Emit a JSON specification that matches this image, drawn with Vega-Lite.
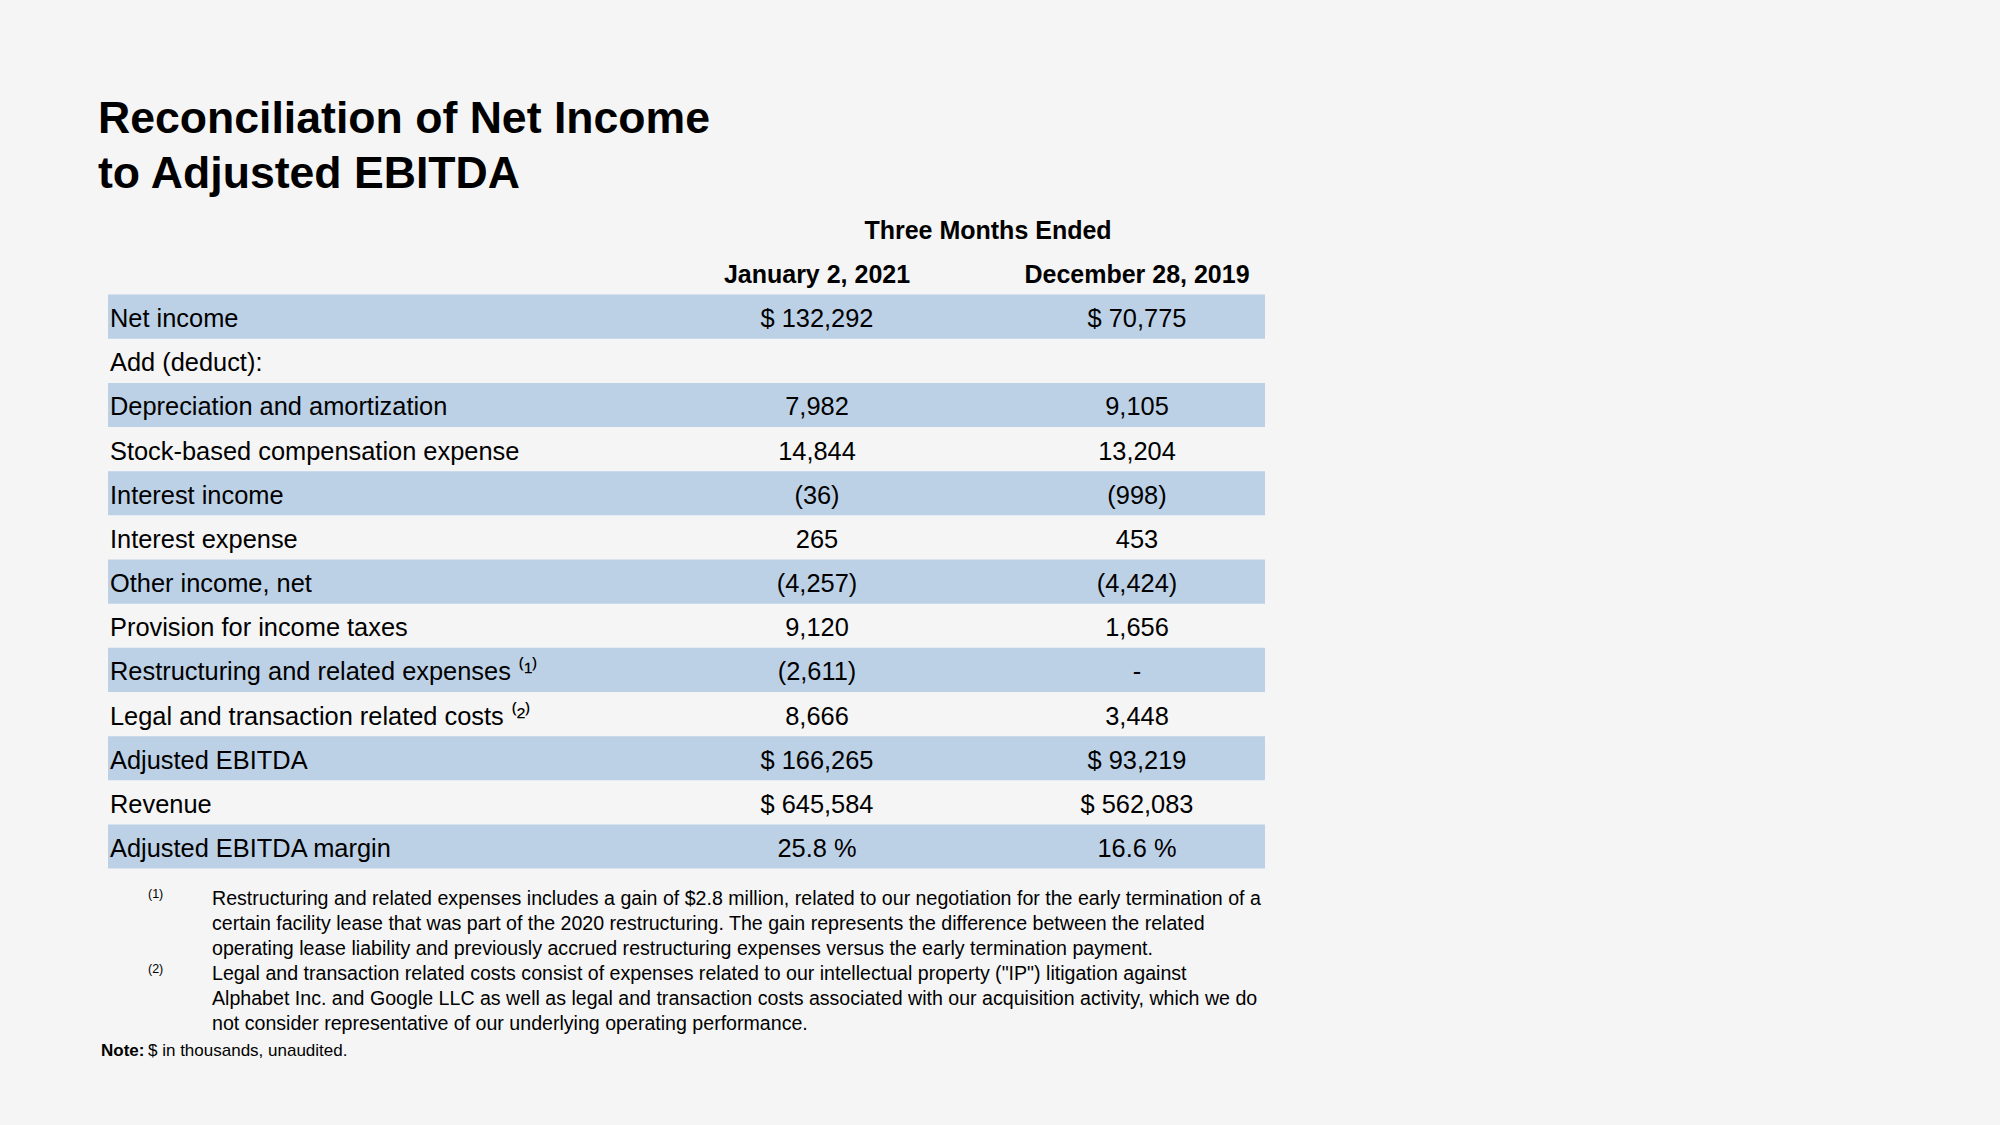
{
  "$schema": "https://vega.github.io/schema/vega-lite/v6.json",
  "width": 2000,
  "height": 1125,
  "autosize": {"type": "fit", "contains": "padding"},
  "padding": 0,
  "background": "#f5f5f5",
  "config": {"view": {"stroke": null}, "text": {"font": "Liberation Sans", "color": "#000000"}},
  "datasets": {
    "table": [
      {"r": 0, "item": "Net income", "jan": "$ 132,292", "dec": "$ 70,775", "shade": 1},
      {"r": 1, "item": "Add (deduct):", "jan": "", "dec": "", "shade": 0},
      {"r": 2, "item": "Depreciation and amortization", "jan": "7,982", "dec": "9,105", "shade": 1},
      {"r": 3, "item": "Stock-based compensation expense", "jan": "14,844", "dec": "13,204", "shade": 0},
      {"r": 4, "item": "Interest income", "jan": "(36)", "dec": "(998)", "shade": 1},
      {"r": 5, "item": "Interest expense", "jan": "265", "dec": "453", "shade": 0},
      {"r": 6, "item": "Other income, net", "jan": "(4,257)", "dec": "(4,424)", "shade": 1},
      {"r": 7, "item": "Provision for income taxes", "jan": "9,120", "dec": "1,656", "shade": 0},
      {"r": 8, "item": "Restructuring and related expenses ⁽¹⁾", "jan": "(2,611)", "dec": "-", "shade": 1},
      {"r": 9, "item": "Legal and transaction related costs ⁽²⁾", "jan": "8,666", "dec": "3,448", "shade": 0},
      {"r": 10, "item": "Adjusted EBITDA", "jan": "$ 166,265", "dec": "$ 93,219", "shade": 1},
      {"r": 11, "item": "Revenue", "jan": "$ 645,584", "dec": "$ 562,083", "shade": 0},
      {"r": 12, "item": "Adjusted EBITDA margin", "jan": "25.8 %", "dec": "16.6 %", "shade": 1}
    ],
    "headers": [
      {"period": "jan", "label": "January 2, 2021"},
      {"period": "dec", "label": "December 28, 2019"}
    ],
    "group": [{"label": "Three Months Ended"}],
    "notes": [
      {"line": 0, "marker": "(1)", "text": "Restructuring and related expenses includes a gain of $2.8 million, related to our negotiation for the early termination of a"},
      {"line": 1, "marker": "", "text": "certain facility lease that was part of the 2020 restructuring. The gain represents the difference between the related"},
      {"line": 2, "marker": "", "text": "operating lease liability and previously accrued restructuring expenses versus the early termination payment."},
      {"line": 3, "marker": "(2)", "text": "Legal and transaction related costs consist of expenses related to our intellectual property (\"IP\") litigation against"},
      {"line": 4, "marker": "", "text": "Alphabet Inc. and Google LLC as well as legal and transaction costs associated with our acquisition activity, which we do"},
      {"line": 5, "marker": "", "text": "not consider representative of our underlying operating performance."}
    ],
    "note": [{"line": 6, "lead": "Note:", "rest": "$ in thousands, unaudited."}],
    "title": [
      {"line": 0, "text": "Reconciliation of Net Income"},
      {"line": 1, "text": "to Adjusted EBITDA"}
    ]
  },
  "layer": [
    {
      "layer": [
        {
          "data": {"name": "table"},
          "transform": [{"filter": "datum.shade == 1"}],
          "mark": {"type": "rect", "color": "#bdd1e6"},
          "encoding": {
            "y": {"field": "r", "type": "ordinal", "axis": null,
                  "scale": {"type": "band", "domain": [-2,-1,0,1,2,3,4,5,6,7,8,9,10,11,12], "range": [206.3, 868.6], "paddingInner": 0, "paddingOuter": 0}},
            "x": {"value": 108},
            "x2": {"value": 1265}
          }
        },
        {
          "data": {"name": "table"},
          "mark": {"type": "text", "align": "left", "baseline": "middle", "fontSize": 25.4, "dy": 2.5},
          "encoding": {
            "y": {"field": "r", "type": "ordinal", "axis": null, "bandPosition": 0.5},
            "x": {"value": 110},
            "text": {"field": "item"}
          }
        },
        {
          "data": {"name": "table"},
          "transform": [{"fold": ["jan", "dec"], "as": ["period", "value"]}, {"filter": "datum.value != ''"}],
          "mark": {"type": "text", "align": "center", "baseline": "middle", "fontSize": 25.4, "dy": 2.5},
          "encoding": {
            "y": {"field": "r", "type": "ordinal", "axis": null, "bandPosition": 0.5},
            "x": {"field": "period", "type": "nominal", "axis": null,
                  "scale": {"type": "point", "domain": ["jan", "dec"], "range": [817, 1137], "padding": 0}},
            "text": {"field": "value"}
          }
        },
        {
          "data": {"name": "headers"},
          "mark": {"type": "text", "align": "center", "baseline": "middle", "fontSize": 25, "fontWeight": "bold", "dy": 2},
          "encoding": {
            "y": {"datum": -1, "type": "ordinal", "axis": null, "bandPosition": 0.5},
            "x": {"field": "period", "type": "nominal", "axis": null},
            "text": {"field": "label"}
          }
        },
        {
          "data": {"name": "group"},
          "mark": {"type": "text", "align": "center", "baseline": "middle", "fontSize": 25, "fontWeight": "bold", "dy": 2.5},
          "encoding": {
            "y": {"datum": -2, "type": "ordinal", "axis": null, "bandPosition": 0.5},
            "x": {"value": 988},
            "text": {"field": "label"}
          }
        }
      ]
    },
    {
      "layer": [
        {
          "data": {"name": "notes"},
          "mark": {"type": "text", "align": "left", "baseline": "middle", "fontSize": 19.6, "dy": 1},
          "encoding": {
            "y": {"field": "line", "type": "ordinal", "axis": null,
                  "scale": {"type": "point", "domain": [0,1,2,3,4,5,6], "range": [898, 1048], "padding": 0}},
            "x": {"value": 212},
            "text": {"field": "text"}
          }
        },
        {
          "data": {"name": "notes"},
          "transform": [{"filter": "datum.marker != ''"}],
          "mark": {"type": "text", "align": "left", "baseline": "middle", "fontSize": 12.5, "dy": -4},
          "encoding": {
            "y": {"field": "line", "type": "ordinal", "axis": null},
            "x": {"value": 148},
            "text": {"field": "marker"}
          }
        },
        {
          "data": {"name": "note"},
          "mark": {"type": "text", "align": "left", "baseline": "middle", "fontSize": 17, "fontWeight": "bold", "dy": 3},
          "encoding": {
            "y": {"field": "line", "type": "ordinal", "axis": null},
            "x": {"value": 101},
            "text": {"field": "lead"}
          }
        },
        {
          "data": {"name": "note"},
          "mark": {"type": "text", "align": "left", "baseline": "middle", "fontSize": 17, "dy": 3},
          "encoding": {
            "y": {"field": "line", "type": "ordinal", "axis": null},
            "x": {"value": 148},
            "text": {"field": "rest"}
          }
        }
      ]
    },
    {
      "data": {"name": "title"},
      "mark": {"type": "text", "align": "left", "baseline": "middle", "fontSize": 44.6, "fontWeight": "bold"},
      "encoding": {
        "y": {"field": "line", "type": "ordinal", "axis": null,
              "scale": {"type": "point", "domain": [0, 1], "range": [120, 175], "padding": 0}},
        "x": {"value": 98},
        "text": {"field": "text"}
      }
    }
  ],
  "resolve": {"scale": {"y": "independent", "x": "independent"}}
}
